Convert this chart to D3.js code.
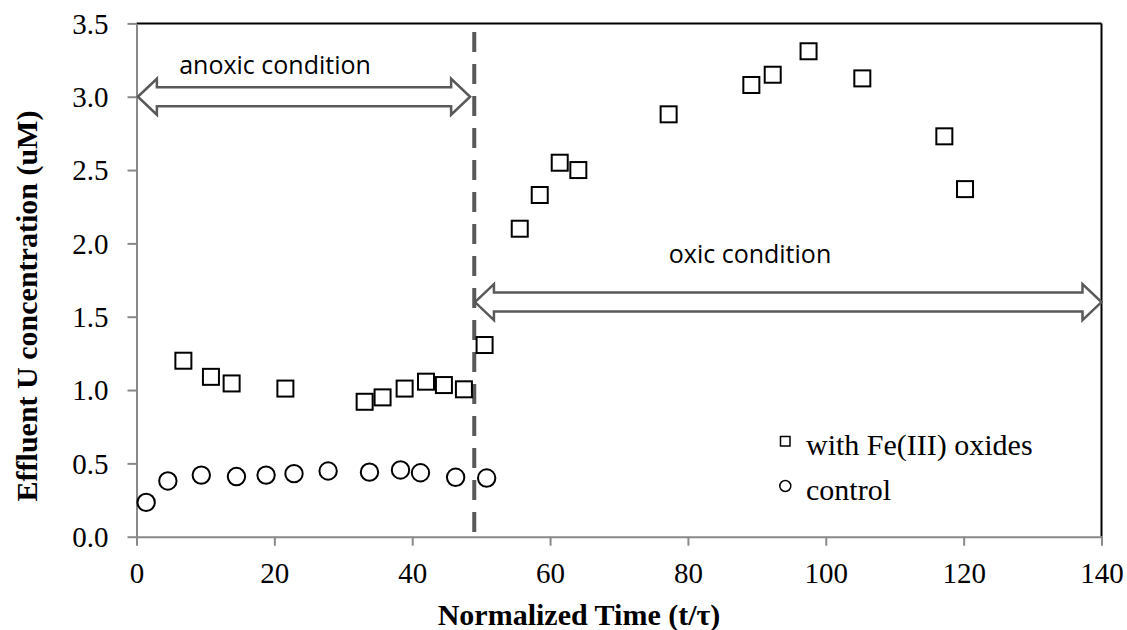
<!DOCTYPE html>
<html>
<head>
<meta charset="utf-8">
<script src="https://cdn.jsdelivr.net/npm/d3@7"></script>
<style>
html, body { margin: 0; padding: 0; background: #fff; }
svg { display: block; }
</style>
</head>
<body>
<svg id="chart" width="1127" height="630"></svg>
<script>
// ---- data ----
const feTime = [6.8, 10.8, 13.8, 21.6, 33.1, 35.7, 38.9, 42.0, 44.6, 47.5, 50.5,
                55.6, 58.5, 61.4, 64.1, 77.2, 89.2, 92.3, 97.5, 105.3, 117.2, 120.2];
const feConc = [1.20, 1.09, 1.045, 1.01, 0.92, 0.95, 1.01, 1.057, 1.034, 1.005, 1.307,
                2.10, 2.33, 2.55, 2.50, 2.88, 3.08, 3.15, 3.31, 3.125, 2.73, 2.37];
const ctrlTime = [1.4, 4.55, 9.4, 14.5, 18.8, 22.85, 27.8, 33.8, 38.3, 41.2, 46.3, 50.8];
const ctrlConc = [0.234, 0.38, 0.42, 0.41, 0.42, 0.43, 0.448, 0.44, 0.455, 0.436, 0.405, 0.40];
const xTicks = [0, 20, 40, 60, 80, 100, 120, 140];
const yTicks = [0.0, 0.5, 1.0, 1.5, 2.0, 2.5, 3.0, 3.5];
const seriesNames = ["with Fe(III) oxides", "control"];
const switchTime = 49.0;
const anoxicArrow = {from: 0.2, to: 48.4, y: 3.0, label: "anoxic condition"};
const oxicArrow = {from: 49.1, to: 140, y: 1.6, label: "oxic condition"};

// ---- layout ----
const svg = d3.select("#chart");
const x = d3.scaleLinear().domain([0, 140]).range([136.5, 1101.5]);
const y = d3.scaleLinear().domain([0, 3.5]).range([536.7, 23.4]);
const axisGray = "#898989";
const arrowGray = "#595959";
const serif = "'Liberation Serif', 'Times New Roman', serif";

// frame: top and right borders
svg.append("line").attr("x1", x(0)).attr("x2", x(140)).attr("y1", y(3.5)).attr("y2", y(3.5))
  .attr("stroke", "#000").attr("stroke-width", 2);
svg.append("line").attr("x1", x(140)).attr("x2", x(140)).attr("y1", y(3.5)).attr("y2", y(0))
  .attr("stroke", "#000").attr("stroke-width", 2);

// axes
const xAxis = d3.axisBottom(x).tickValues(xTicks).tickFormat(d3.format("d")).tickSizeInner(9).tickSizeOuter(0).tickPadding(17);
const yAxis = d3.axisLeft(y).tickValues(yTicks).tickFormat(d3.format(".1f")).tickSizeInner(9).tickSizeOuter(0).tickPadding(19);

const gx = svg.append("g").attr("transform", `translate(0,${y(0)})`).call(xAxis);
const gy = svg.append("g").attr("transform", `translate(${x(0)},0)`).call(yAxis);
[gx, gy].forEach(g => {
  g.select(".domain").attr("stroke", axisGray).attr("stroke-width", 2);
  g.selectAll(".tick line").attr("stroke", axisGray).attr("stroke-width", 2);
  g.selectAll(".tick text").attr("fill", "#000")
    .style("font-family", serif).style("font-size", "29px");
});
gy.selectAll(".tick text").attr("dy", "0.34em");

// axis titles
svg.append("text").attr("x", 579).attr("y", 625).attr("text-anchor", "middle")
  .style("font-family", serif).style("font-size", "30px").style("font-weight", "bold")
  .text("Normalized Time (t/τ)");
svg.append("text").attr("transform", "translate(37,306) rotate(-90)").attr("text-anchor", "middle")
  .style("font-family", serif).style("font-size", "30px").style("font-weight", "bold")
  .text("Effluent U concentration (uM)");

// dashed divider
svg.append("line").attr("x1", x(switchTime)).attr("x2", x(switchTime)).attr("y1", 32).attr("y2", y(0) - 4)
  .attr("stroke", arrowGray).attr("stroke-width", 4).attr("stroke-dasharray", "20,12");

// double-headed hollow arrows
function dblArrow(a) {
  const x0 = x(a.from), x1 = x(a.to), yc = y(a.y);
  const hl = 19, sh = 9.5, hh = 18;
  const pts = [
    [x0, yc], [x0 + hl, yc - hh], [x0 + hl, yc - sh], [x1 - hl, yc - sh], [x1 - hl, yc - hh],
    [x1, yc], [x1 - hl, yc + hh], [x1 - hl, yc + sh], [x0 + hl, yc + sh], [x0 + hl, yc + hh]
  ];
  svg.append("polygon").attr("points", pts.map(p => p.join(",")).join(" "))
    .attr("fill", "#fff").attr("stroke", arrowGray).attr("stroke-width", 2.5).attr("stroke-linejoin", "miter");
}
dblArrow(anoxicArrow);
dblArrow(oxicArrow);

const labelFont = "'Open Sans', 'Noto Sans', sans-serif";
svg.append("text").attr("x", 275).attr("y", 74).attr("text-anchor", "middle")
  .style("font-family", labelFont).style("font-size", "25px").attr("fill", "#000").text(anoxicArrow.label);
svg.append("text").attr("x", 750).attr("y", 263).attr("text-anchor", "middle")
  .style("font-family", labelFont).style("font-size", "25px").attr("fill", "#000").text(oxicArrow.label);

// markers
const sq = 16;
const feData = feTime.map((t, i) => ({t, v: feConc[i]}));
const ctrlData = ctrlTime.map((t, i) => ({t, v: ctrlConc[i]}));

svg.append("g").selectAll("rect").data(feData).join("rect")
  .attr("x", d => x(d.t) - sq / 2).attr("y", d => y(d.v) - sq / 2)
  .attr("width", sq).attr("height", sq)
  .attr("fill", "none").attr("stroke", "#000").attr("stroke-width", 2);

svg.append("g").selectAll("circle").data(ctrlData).join("circle")
  .attr("cx", d => x(d.t)).attr("cy", d => y(d.v)).attr("r", 8.7)
  .attr("fill", "none").attr("stroke", "#000").attr("stroke-width", 2);

// legend
const lg = svg.append("g");
lg.append("rect").attr("x", 780.5).attr("y", 436.5).attr("width", 9.5).attr("height", 9.5)
  .attr("fill", "none").attr("stroke", "#000").attr("stroke-width", 1.5);
lg.append("circle").attr("cx", 785.3).attr("cy", 486).attr("r", 5.5)
  .attr("fill", "none").attr("stroke", "#000").attr("stroke-width", 1.5);
lg.append("text").attr("x", 806).attr("y", 455)
  .style("font-family", serif).style("font-size", "30px").text(seriesNames[0]);
lg.append("text").attr("x", 806).attr("y", 500)
  .style("font-family", serif).style("font-size", "30px").text(seriesNames[1]);
</script>
</body>
</html>
